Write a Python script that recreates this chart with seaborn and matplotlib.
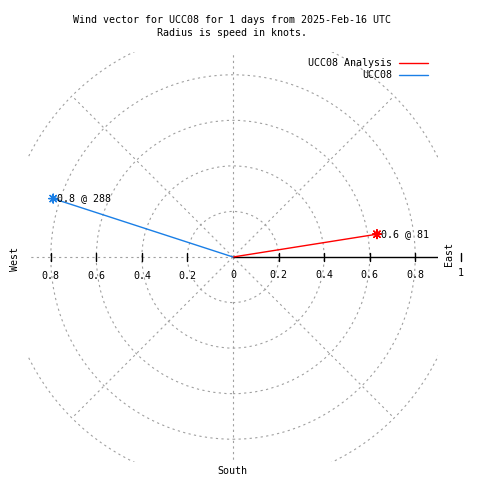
import numpy as np
import pandas as pd
import matplotlib
matplotlib.use("Agg")
import matplotlib.pyplot as plt
from matplotlib.patches import Circle
import seaborn as sns

# wind vectors (speed in knots, direction in degrees from north)
series = ["UCC08 Analysis", "UCC08"]
speed = [0.64, 0.83]
direction = [81, 288]
colors = ["#ff0000", "#1a7fe6"]

rings = [0.2, 0.4, 0.6, 0.8, 1.0]
spokes = [0, 45, 135, 180, 225, 270, 315]
tick_vals = [0.2, 0.4, 0.6, 0.8]
lim = 0.9

sns.set_style("white")
plt.rcParams["font.family"] = ["DejaVu Sans Mono"]
plt.rcParams["font.size"] = 7.2
plt.rcParams["text.color"] = "black"

W = H = 480
fig = plt.figure(figsize=(4.8, 4.8), dpi=100)
# plot box 410 px wide, centre at pixel (233, 257)
ax = fig.add_axes([28 / W, 18 / H, 410 / W, 410 / H])
ax.set_xlim(-lim, lim)
ax.set_ylim(-lim, lim)
ax.set_aspect("equal")
ax.axis("off")

grid_kw = dict(color="#a0a0a0", lw=0.8, linestyle=(0, (2, 3)))
for r in rings:
    ax.add_patch(Circle((0, 0), r, fill=False, **grid_kw))
for a in spokes:
    t = np.deg2rad(a)
    ax.plot([0, np.sin(t)], [0, np.cos(t)], **grid_kw)

# polar axis toward east
ax.plot([0, lim], [0, 0], color="black", lw=1)
tl = 0.018
for v in tick_vals:
    ax.plot([v, v], [-tl, tl], color="black", lw=1)
    ax.plot([-v, -v], [-tl, tl], color="black", lw=1)
ax.plot([1.0, 1.0], [-tl, tl], color="black", lw=1, clip_on=False)

# vectors
rad = np.deg2rad(direction)
df = pd.DataFrame({
    "series": series * 2,
    "x": [0.0, 0.0] + list(np.array(speed) * np.sin(rad)),
    "y": [0.0, 0.0] + list(np.array(speed) * np.cos(rad)),
})
pal = dict(zip(series, colors))
sns.lineplot(data=df, x="x", y="y", hue="series", palette=pal, sort=False,
             estimator=None, lw=1, ax=ax)
tips = df.iloc[2:]
sns.scatterplot(data=tips, x="x", y="y", hue="series", palette=pal,
                marker=(8, 2, 0), s=40, linewidth=1, legend=False, ax=ax)
for i, row in tips.reset_index(drop=True).iterrows():
    ax.annotate(f"{speed[i]:.1f} @ {direction[i]}", (row["x"], row["y"]),
                xytext=(4, 0), textcoords="offset pixels", ha="left", va="center")

leg = ax.legend(loc="upper right", bbox_to_anchor=(428 / W, 1 - 58 / H),
                bbox_transform=fig.transFigure, frameon=False, markerfirst=False,
                handlelength=2.9, handletextpad=0.7, labelspacing=0.2,
                borderpad=0, borderaxespad=0)

def px(x, y, s, **kw):
    fig.text(x / W, 1 - y / H, s, **kw)

px(232, 20, "Wind vector for UCC08 for 1 days from 2025-Feb-16 UTC", ha="center", va="center")
px(232, 33, "Radius is speed in knots.", ha="center", va="center")

# tick labels along the horizontal axis
cx, scale = 233, 205 / lim
for v in tick_vals:
    px(cx - v * scale, 276, f"{v:.1f}", ha="center", va="center")
    px(cx + v * scale, 275, f"{v:.1f}", ha="center", va="center")
px(cx, 275, "0", ha="center", va="center")
px(cx + 1.0 * scale, 273, "1", ha="center", va="center")

px(15, 259, "West", ha="center", va="center", rotation=90)
px(449, 254, "East", ha="center", va="center", rotation=90)
px(232, 471, "South", ha="center", va="center")

fig.savefig("out.png", dpi=100)
